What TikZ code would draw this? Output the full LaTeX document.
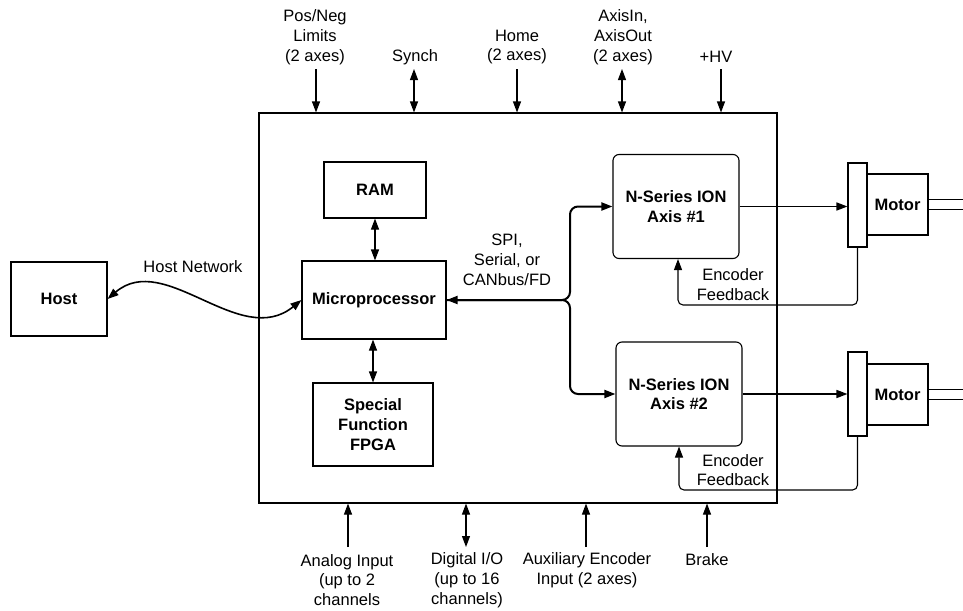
\documentclass[tikz,border=0pt]{standalone}
\usepackage{fontspec}
\setmainfont{Liberation Sans}
\usetikzlibrary{arrows.meta}

\begin{document}
\begin{tikzpicture}[x=1pt,y=-1pt,
    >={Triangle[length=11pt,width=8pt]},
    every node/.style={font=\fontsize{16.5}{19.8}\selectfont, align=center},
    blk/.style={draw, line width=1.1pt, inner sep=0pt, font=\fontsize{16.5}{19.8}\selectfont\bfseries},
    axbox/.style={blk, rounded corners=6pt, minimum width=126pt, minimum height=104pt},
    flange/.style={draw, line width=1.1pt, minimum width=19pt, minimum height=84pt, inner sep=0pt},
    motor/.style={blk, minimum width=61pt, minimum height=61pt},
    wire/.style={line width=1.1pt},
    drive/.style={line width=1.6pt},
    bus/.style={line width=2pt}]
  \useasboundingbox (0,0) rectangle (963,610);
  \draw
    (518,308) node[blk, minimum width=518pt, minimum height=390pt] (ctrl){}
    (375,190) node[blk, minimum width=102pt, minimum height=56pt] (ram){RAM}
    (374,300) node[blk, minimum width=144pt, minimum height=78pt] (micro){Microprocessor}
    (373,424.5) node[blk, minimum width=120pt, minimum height=83pt] (fpga){Special\\Function\\FPGA}
    (59,299) node[blk, minimum width=96pt, minimum height=74pt] (host){Host}
    (676,206.5) node[axbox] (axis1){N-Series ION\\Axis \#1}
    (679,394) node[axbox] (axis2){N-Series ION\\Axis \#2}
    (857.5,205) node[flange] (fl1){}
    (897.5,204.5) node[motor] (motor1){Motor}
    (857.5,394) node[flange] (fl2){}
    (897.5,394.5) node[motor] (motor2){Motor};
  \draw
    (315,37.5) node (limitsL){Pos/Neg\\Limits\\(2 axes)}
    (415,57) node (synchL){Synch}
    (517,47) node (homeL){Home\\(2 axes)}
    (623,37.5) node (axisioL){AxisIn,\\AxisOut\\(2 axes)}
    (716,57) node (hvL){+HV}
    (347,580) node (analogL){Analog Input\\(up to 2\\channels}
    (467,580) node (digitalL){Digital I/O\\(up to 16\\channels)}
    (587,570) node (auxL){Auxiliary Encoder\\Input (2 axes)}
    (707,560) node (brakeL){Brake}
    (193,267) node (netL){Host Network}
    (507,260) node (busL){SPI,\\Serial, or\\CANbus/FD}
    (733,284.5) node (enc1L){Encoder\\Feedback}
    (733,470) node (enc2L){Encoder\\Feedback};
  \coordinate (limits) at (316,69);
  \coordinate (synch) at (414,69);
  \coordinate (home) at (517,69);
  \coordinate (axisio) at (622,69);
  \coordinate (hv) at (721,69);
  \coordinate (analog) at (348,547);
  \coordinate (digital) at (466,547);
  \coordinate (aux) at (586,547);
  \coordinate (brake) at (707,547);
  \coordinate (branch) at (570,300);
  \coordinate (fb1) at (678,305);
  \coordinate (fb2) at (679,490);
  \begin{scope}[wire]
    \draw[->] (limits) to (limits |- ctrl.north);
    \draw[<->] (synch) to (synch |- ctrl.north);
    \draw[->] (home) to (home |- ctrl.north);
    \draw[<->] (axisio) to (axisio |- ctrl.north);
    \draw[->] (hv) to (hv |- ctrl.north);
    \draw[->] (analog) to (analog |- ctrl.south);
    \draw[<->] (digital) to (digital |- ctrl.south);
    \draw[->] (aux) to (aux |- ctrl.south);
    \draw[->] (brake) to (brake |- ctrl.south);
    \draw[<->] (ram.south) to (ram.south |- micro.north);
    \draw[<->] (fpga.north) to (fpga.north |- micro.south);
    \draw[->, rounded corners=5pt] (fl1.south) |- (fb1) to (fb1 |- axis1.south);
    \draw[->, rounded corners=5pt] (fl2.south) |- (fb2) to (fb2 |- axis2.south);
    \draw ([yshift=5pt]motor1.east) -- ++(36,0);
    \draw ([yshift=-5pt]motor1.east) -- ++(36,0);
    \draw ([yshift=5pt]motor2.east) -- ++(36,0);
    \draw ([yshift=-5pt]motor2.east) -- ++(36,0);
  \end{scope}
  \begin{scope}[drive, ->]
    \draw (axis1.east) to (axis1.east -| fl1.west);
    \draw (axis2.east) to (axis2.east -| fl2.west);
    \draw[<->] (host.east) .. controls (165,250) and (240,350) .. (micro.west);
  \end{scope}
  \begin{scope}[bus, rounded corners=8pt]
    \draw[<->] (micro.east) -- (branch) |- (axis1.west);
    \draw[->] (micro.east) -- (branch) |- (axis2.west);
  \end{scope}
\end{tikzpicture}
\end{document}
